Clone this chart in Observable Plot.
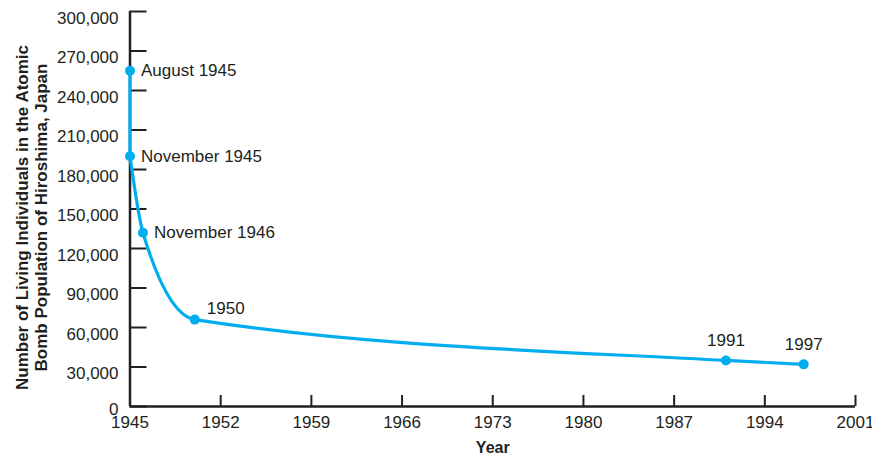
<!DOCTYPE html>
<html>
<head>
<meta charset="utf-8">
<script src="https://cdn.jsdelivr.net/npm/d3@7"></script>
<script src="https://cdn.jsdelivr.net/npm/@observablehq/plot@0.6"></script>
<style>
  html, body { margin: 0; padding: 0; background: #fff; }
  #chart svg { display: block; }
</style>
</head>
<body>
<div id="chart"></div>
<script>
// Data
const years = [1945, 1945, 1946, 1950, 1991, 1997];
const counts = [255000, 190000, 132000, 66000, 35000, 32000];
const pointLabels = ["August 1945", "November 1945", "November 1946", "1950", "1991", "1997"];
const xTicks = [1945, 1952, 1959, 1966, 1973, 1980, 1987, 1994, 2001];
const yTicks = [0, 30000, 60000, 90000, 120000, 150000, 180000, 210000, 240000, 270000, 300000];
const yTitle = "Number of Living Individuals in the Atomic\nBomb Population of Hiroshima, Japan";
const xTitle = "Year";

const data = years.map((x, i) => ({x, y: counts[i], label: pointLabels[i], i}));
const firstDrop = data.filter(d => d.i <= 1);      // Aug 1945 -> Nov 1945 (same year position)
const afterNov45 = data.filter(d => d.i >= 1);
const sideLabels = data.filter(d => d.i <= 2);
const upRightLabels = data.filter(d => d.i === 3);
const topLabels = data.filter(d => d.i >= 4);

const ink = "#231f20";
const blue = "#00aeef";
const fmt = d3.format(",");

const chart = Plot.plot({
  width: 872,
  height: 454,
  marginLeft: 129.5,
  marginRight: 17,
  marginTop: 11,
  marginBottom: 48,
  style: {fontFamily: "'Liberation Sans', Arial, Helvetica, sans-serif", fontSize: "17px", color: ink, background: "#fff"},
  x: {domain: [1945, 2001]},
  y: {domain: [0, 300000]},
  marks: [
    // inward ticks
    Plot.axisY({ticks: yTicks, tickSize: -17, tickFormat: () => "", strokeWidth: 2, label: null}),
    // tick labels (sit slightly below their ticks, as in the reference)
    Plot.axisY({ticks: yTicks.filter(v => v > 0), tickSize: 0, tickPadding: 11.5, dy: 7, tickFormat: fmt, label: null, fontSize: 17}),
    Plot.axisY({ticks: yTicks.filter(v => v === 0), tickSize: 0, tickPadding: 11.5, dy: 3, tickFormat: fmt, label: null, fontSize: 17}),
    Plot.axisX({ticks: xTicks, tickFormat: d => String(d), tickSize: -11, tickPadding: 20, strokeWidth: 2, label: null, fontSize: 17}),
    Plot.ruleX([1945], {stroke: ink, strokeWidth: 2.5}),
    Plot.ruleY([0], {stroke: ink, strokeWidth: 2.5}),
    Plot.line(firstDrop, {x: "x", y: "y", stroke: blue, strokeWidth: 3.2}),
    Plot.line(afterNov45, {x: "x", y: "y", curve: "monotone-x", stroke: blue, strokeWidth: 3.2}),
    Plot.dot(data, {x: "x", y: "y", r: 5, fill: blue, stroke: null}),
    Plot.text(sideLabels, {x: "x", y: "y", text: "label", textAnchor: "start", dx: 11, fill: ink, fontSize: 17}),
    Plot.text(upRightLabels, {x: "x", y: "y", text: "label", textAnchor: "start", dx: 12, dy: -11, fill: ink, fontSize: 17}),
    Plot.text(topLabels, {x: "x", y: "y", text: "label", textAnchor: "middle", dy: -20, fill: ink, fontSize: 17}),
    Plot.text([yTitle], {frameAnchor: "left", text: d => d, rotate: -90, dx: -98.5, dy: 8.5, textAnchor: "middle", lineAnchor: "middle", lineHeight: 1.08, fontWeight: "bold", fontSize: 17, fill: ink}),
    Plot.text([xTitle], {frameAnchor: "bottom", text: d => d, dy: 41, lineAnchor: "middle", fontWeight: "bold", fontSize: 16, fill: ink})
  ]
});
document.getElementById("chart").appendChild(chart);
</script>
</body>
</html>
